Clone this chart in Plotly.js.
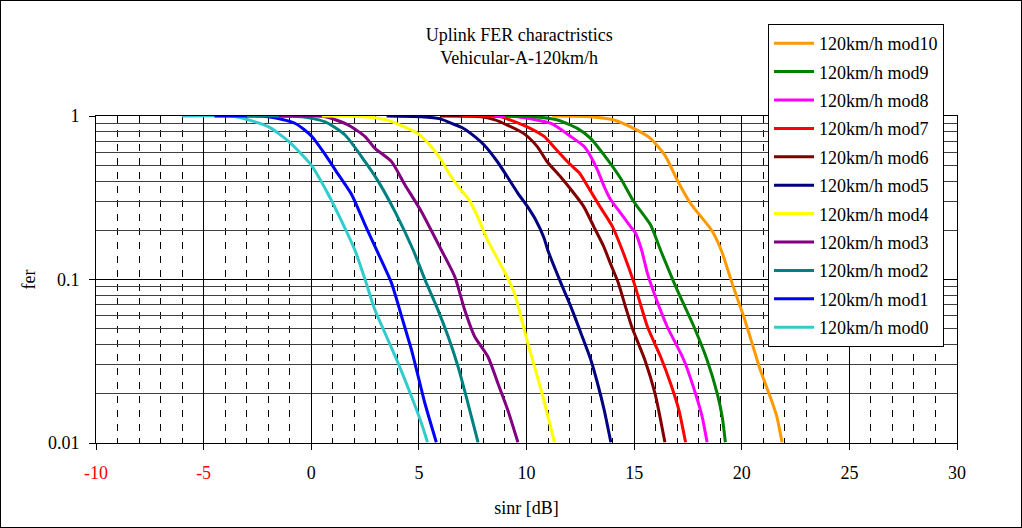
<!DOCTYPE html>
<html><head><meta charset="utf-8">
<script src="https://cdn.plot.ly/plotly-3.0.1.min.js"></script>
<style>html,body{margin:0;padding:0;background:#fff;} #chart{width:1020px;height:526px;border:1px solid #000;}</style>
</head><body><div id="chart"></div>
<script>
const seriesNames = ['120km/h mod0','120km/h mod1','120km/h mod2','120km/h mod3','120km/h mod4','120km/h mod5','120km/h mod6','120km/h mod7','120km/h mod8','120km/h mod9','120km/h mod10'];
const seriesColors = ['#33CCCC','#0000FF','#008080','#800080','#FFFF00','#000080','#800000','#FF0000','#FF00FF','#008000','#FF9900'];

const mod0X = [-6, -3.5, -2, -1.05, 0, 0.8, 1.42, 2.03, 2.5, 2.96, 3.43, 4.04, 4.66, 5.12, 5.4];
const mod0Y = [1, 0.99, 0.86, 0.70, 0.50, 0.33, 0.226, 0.151, 0.1, 0.065, 0.0469, 0.0307, 0.0192, 0.0132, 0.0101];
const mod1X = [-4.5, -2, -0.74, 0.03, 0.65, 1.27, 1.88, 2.5, 3.04, 3.73, 4.2, 4.66, 4.97, 5.28, 5.81];
const mod1Y = [1, 0.99, 0.90, 0.75, 0.58, 0.436, 0.33, 0.216, 0.151, 0.095, 0.0593, 0.037, 0.0255, 0.0175, 0.0101];
const mod2X = [-3, -0.43, 0.65, 1.57, 2.5, 3.12, 3.89, 4.74, 5.28, 5.89, 6.36, 6.82, 7.28, 7.75];
const mod2Y = [1, 0.99, 0.92, 0.765, 0.526, 0.397, 0.26, 0.151, 0.1, 0.065, 0.0448, 0.0293, 0.0175, 0.0101];
const mod3X = [-1.5, 0.65, 1.73, 2.5, 2.96, 3.73, 4.35, 5.12, 6.05, 6.67, 7.13, 7.59, 8.21, 8.67, 9.13, 9.6];
const mod3Y = [1, 0.99, 0.88, 0.748, 0.634, 0.526, 0.38, 0.26, 0.151, 0.104, 0.065, 0.0448, 0.0337, 0.0232, 0.0159, 0.0101];
const mod4X = [0.5, 2.5, 3.45, 4.05, 4.96, 5.57, 6.03, 6.5, 6.96, 7.34, 7.73, 8.19, 8.44, 9.0, 9.44, 10.06, 10.68, 11.3];
const mod4Y = [1, 0.99, 0.95, 0.89, 0.78, 0.65, 0.54, 0.425, 0.352, 0.306, 0.242, 0.174, 0.151, 0.11, 0.0824, 0.0407, 0.0211, 0.0101];
const mod5X = [3.5, 5.1, 6.0, 6.53, 7.0, 7.42, 8.03, 8.65, 9.11, 9.58, 10.04, 10.4, 10.81, 10.99, 11.6, 12.06, 12.53, 12.99, 13.3, 13.61, 13.92];
const mod5Y = [1, 0.99, 0.96, 0.90, 0.85, 0.78, 0.665, 0.525, 0.425, 0.34, 0.28, 0.235, 0.18, 0.151, 0.095, 0.0682, 0.0469, 0.0322, 0.0232, 0.0159, 0.0101];
const mod6X = [6, 7.89, 8.5, 9.11, 9.88, 10.5, 10.96, 11.58, 12.2, 12.66, 13.13, 13.59, 13.9, 14.27, 14.6, 14.89, 15.5, 15.97, 16.2, 16.43];
const mod6Y = [1, 0.99, 0.95, 0.88, 0.78, 0.65, 0.525, 0.425, 0.337, 0.279, 0.21, 0.159, 0.125, 0.095, 0.068, 0.0514, 0.0322, 0.0201, 0.0145, 0.0101];
const mod7X = [7, 8.81, 9.2, 10.1, 10.82, 11.35, 12.0, 12.45, 12.8, 13.37, 14.0, 14.45, 15.0, 15.62, 16.23, 16.69, 17.08, 17.39];
const mod7Y = [1, 0.99, 0.95, 0.85, 0.75, 0.63, 0.51, 0.45, 0.38, 0.285, 0.21, 0.151, 0.095, 0.0514, 0.0337, 0.0232, 0.0159, 0.0101];
const mod8X = [8.5, 9.58, 11.14, 12.07, 12.68, 12.99, 13.3, 13.61, 13.92, 14.38, 14.84, 15.07, 15.35, 15.62, 15.93, 16.54, 17.31, 17.85, 18.16, 18.39];
const mod8Y = [1, 0.99, 0.9, 0.747, 0.65, 0.564, 0.467, 0.37, 0.306, 0.254, 0.21, 0.192, 0.151, 0.109, 0.0824, 0.0514, 0.0322, 0.0201, 0.0145, 0.0101];
const mod9X = [9, 10.35, 11.44, 12.36, 12.98, 13.6, 14.37, 14.98, 15.76, 16.23, 17.0, 17.78, 18.39, 18.86, 19.09, 19.24];
const mod9Y = [1, 0.99, 0.945, 0.84, 0.73, 0.578, 0.416, 0.3, 0.216, 0.151, 0.0863, 0.0514, 0.0322, 0.0201, 0.0145, 0.0101];
const mod10X = [11.2, 12.98, 14.06, 14.98, 15.76, 16.45, 17.0, 17.62, 18.6, 19.05, 19.55, 20.09, 20.48, 20.86, 21.32, 21.63, 21.87];
const mod10Y = [1, 0.99, 0.945, 0.84, 0.73, 0.57, 0.406, 0.292, 0.2, 0.151, 0.095, 0.0593, 0.0407, 0.028, 0.0192, 0.0145, 0.0101];

const xTickVals = [-10, -5, 0, 5, 10, 15, 20, 25, 30];
const xTickText = ['<span style="color:#FF0000">-10</span>', '<span style="color:#FF0000">-5</span>', '0', '5', '10', '15', '20', '25', '30'];
const yTickVals = [0.01, 0.1, 1];
const yTickText = ['0.01', '0.1', '1'];

const allX = [mod0X, mod1X, mod2X, mod3X, mod4X, mod5X, mod6X, mod7X, mod8X, mod9X, mod10X];
const allY = [mod0Y, mod1Y, mod2Y, mod3Y, mod4Y, mod5Y, mod6Y, mod7Y, mod8Y, mod9Y, mod10Y];

const traces = seriesNames.map((n, i) => ({
  type: 'scatter', mode: 'lines', name: n, legendgroup: 'g' + i, legendrank: 1000 - i,
  x: allX[i], y: allY[i],
  line: {color: seriesColors[i], width: 3, shape: 'spline', smoothing: 0.6}
}));

const FONT = 'Liberation Serif, Times New Roman, serif';
const layout = {
  width: 1020, height: 526,
  margin: {l: 95, r: 64, t: 115, b: 84},
  paper_bgcolor: '#fff', plot_bgcolor: '#fff',
  font: {family: FONT, size: 18, color: '#000'},
  title: {text: 'Uplink FER charactristics<br>Vehicular-A-120km/h', x: 0.508, xref: 'container', xanchor: 'center',
          y: 1 - 40/526, yref: 'container', yanchor: 'top', font: {family: FONT, size: 18, color: '#000'}},
  xaxis: {range: [-10, 30], tickmode: 'array', tickvals: xTickVals, ticktext: xTickText,
          ticks: 'outside', ticklen: 6, tickcolor: '#000', showline: true, linecolor: '#000', linewidth: 1, mirror: true,
          showgrid: true, gridcolor: '#000', gridwidth: 1, zeroline: false,
          minor: {dtick: 1, tick0: 0, showgrid: true, gridcolor: '#000', gridwidth: 1, griddash: '7px,7px'},
          ticklabelstandoff: 7,
          title: {text: 'sinr [dB]', standoff: 19, font: {family: FONT, size: 18}}},
  yaxis: {type: 'log', range: [-2, 0], tickmode: 'array', tickvals: yTickVals, ticktext: yTickText,
          ticks: 'outside', ticklen: 6, tickcolor: '#000', showline: true, linecolor: '#000', linewidth: 1, mirror: true,
          showgrid: true, gridcolor: '#000', gridwidth: 1, zeroline: false,
          minor: {dtick: 'D1', showgrid: true, gridcolor: '#404040', gridwidth: 1},
          ticklabelstandoff: 6,
          title: {text: 'fer', standoff: 7, font: {family: FONT, size: 18}}},
  showlegend: true,
  legend: {x: 0.7805, y: 1.2813, xanchor: 'left', yanchor: 'top', bgcolor: '#fff', bordercolor: '#000', borderwidth: 1,
           font: {family: FONT, size: 18, color: '#000'}, traceorder: 'grouped', tracegroupgap: 2, maxheight: 420,
           itemwidth: 40}
};

Plotly.newPlot('chart', traces, layout, {displayModeBar: false, staticPlot: true});
</script>
</body></html>
